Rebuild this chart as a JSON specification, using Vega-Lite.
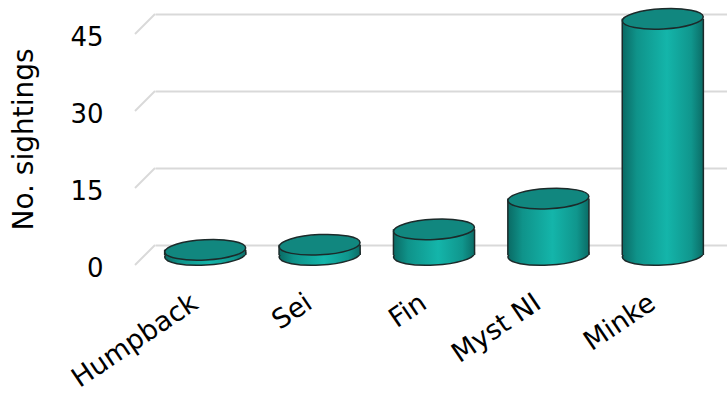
{
  "$schema": "https://vega.github.io/schema/vega-lite/v6.json",
  "autosize": "none",
  "width": 572,
  "height": 231,
  "padding": {"left": 155, "top": 14, "right": 0, "bottom": 149},
  "config": {"view": {"stroke": null}, "font": "DejaVu Sans"},
  "data": {"values": [
    {"sp": "Humpback", "n": 1},
    {"sp": "Sei", "n": 2},
    {"sp": "Fin", "n": 5},
    {"sp": "Myst NI", "n": 11},
    {"sp": "Minke", "n": 46}
  ]},
  "layer": [
    {
      "data": {"values": [{"v": 0}, {"v": 15}, {"v": 30}, {"v": 45}]},
      "mark": {"type": "rule", "color": "#d9d9d9", "strokeWidth": 2, "y2Offset": 20},
      "encoding": {
        "x": {"value": 0},
        "x2": {"value": -20},
        "y": {"field": "v", "type": "quantitative", "scale": {"domain": [0, 45]}},
        "y2": {"field": "v"}
      }
    },
    {
      "mark": {"type": "point", "shape": "M-1,0A1,0.25,0,1,1,1,0A1,0.25,0,1,1,-1,0Z", "size": 6561, "angle": -3, "filled": true, "opacity": 1, "xOffset": -7, "yOffset": 10, "strokeWidth": 1.5, "stroke": "#1c2a2a",
        "fill": {"gradient": "linear", "x1": 0, "x2": 1, "y1": 0, "y2": 0, "stops": [
          {"offset": 0, "color": "#0a6a64"}, {"offset": 0.18, "color": "#0f938a"}, {"offset": 0.55, "color": "#14b5aa"}, {"offset": 0.85, "color": "#10968d"}, {"offset": 1, "color": "#0b6c66"}]}},
      "encoding": {
        "x": {"field": "sp", "type": "nominal", "sort": null},
        "y": {"datum": 0, "type": "quantitative"}
      }
    },
    {
      "mark": {"type": "bar", "width": {"band": 0.709}, "xOffset": -7, "yOffset": 10, "y2Offset": 10,
        "fill": {"gradient": "linear", "x1": 0, "x2": 1, "y1": 0, "y2": 0, "stops": [
          {"offset": 0, "color": "#0a6a64"}, {"offset": 0.18, "color": "#0f938a"}, {"offset": 0.55, "color": "#14b5aa"}, {"offset": 0.85, "color": "#10968d"}, {"offset": 1, "color": "#0b6c66"}]}},
      "encoding": {
        "x": {"field": "sp", "type": "nominal", "sort": null,
          "scale": {"paddingInner": 0, "paddingOuter": 0},
          "axis": {"title": null, "domain": false, "ticks": false, "grid": false, "labelAngle": -34, "labelAlign": "right", "labelBaseline": "middle", "labelFontSize": 27, "labelColor": "#000000", "labelPadding": 55, "labelOffset": -17, "labelFont": "DejaVu Sans"}},
        "y": {"field": "n", "type": "quantitative", "scale": {"domain": [0, 45], "nice": false},
          "axis": {"values": [0, 15, 30, 45], "domain": false, "ticks": false, "grid": true, "gridColor": "#d9d9d9", "gridWidth": 2,
            "labelFontSize": 26, "labelColor": "#000000", "labelPadding": 52, "labelOffset": 23, "labelFont": "DejaVu Sans",
            "title": "No. sightings", "titleFontSize": 28, "titleFontWeight": "normal", "titleColor": "#000000", "titleFont": "DejaVu Sans",
            "titleX": -131, "titleY": 125, "titleAngle": -90, "titleAlign": "center", "titleBaseline": "middle"}}
      }
    },
    {
      "mark": {"type": "rule", "color": "#1c2a2a", "strokeWidth": 1.5, "xOffset": -7, "yOffset": 10, "y2Offset": 10},
      "encoding": {
        "x": {"field": "sp", "type": "nominal", "sort": null, "bandPosition": 0.1455},
        "y": {"field": "n", "type": "quantitative"},
        "y2": {"datum": 0}
      }
    },
    {
      "mark": {"type": "rule", "color": "#1c2a2a", "strokeWidth": 1.5, "xOffset": -7, "yOffset": 10, "y2Offset": 10},
      "encoding": {
        "x": {"field": "sp", "type": "nominal", "sort": null, "bandPosition": 0.8545},
        "y": {"field": "n", "type": "quantitative"},
        "y2": {"datum": 0}
      }
    },
    {
      "mark": {"type": "point", "shape": "M-1,0A1,0.25,0,1,1,1,0A1,0.25,0,1,1,-1,0Z", "size": 6561, "angle": -3, "filled": true, "opacity": 1, "xOffset": -7, "yOffset": 10, "strokeWidth": 1.5, "stroke": "#1c2a2a", "fill": "#11877f"},
      "encoding": {
        "x": {"field": "sp", "type": "nominal", "sort": null},
        "y": {"field": "n", "type": "quantitative"}
      }
    }
  ]
}
